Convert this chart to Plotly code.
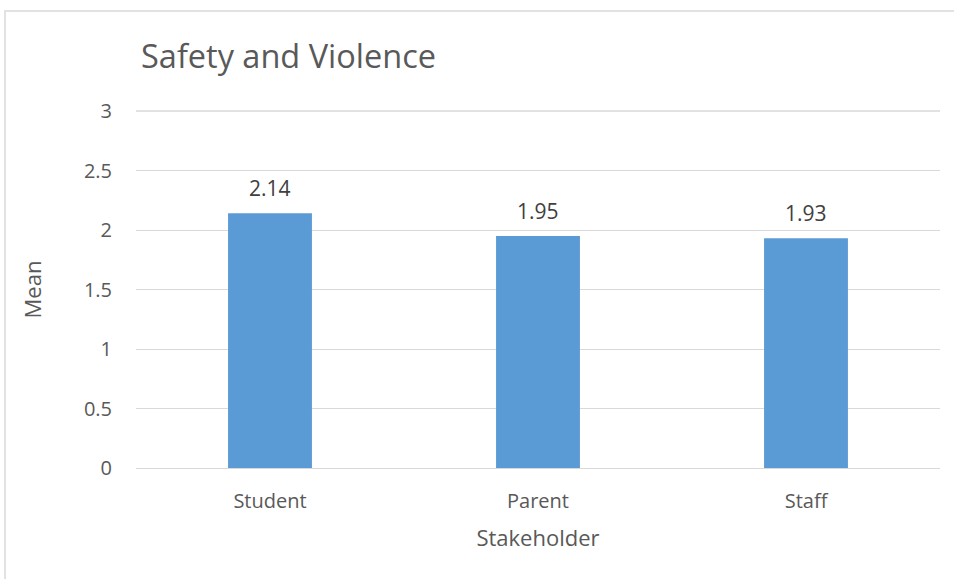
import plotly.graph_objects as go

categories = ["Student", "Parent", "Staff"]
means = [2.14, 1.95, 1.93]
labels = ["2.14", "1.95", "1.93"]
y_ticks = [0, 0.5, 1, 1.5, 2, 2.5, 3]
y_tick_text = ["0", "0.5", "1", "1.5", "2", "2.5", "3"]

W, H = 954, 579
L, R, T, B = 136, 14, 111, 111
pw, ph = W - L - R, H - T - B
font_family = "Open Sans"
txt = "#595959"
grid = "#D9D9D9"

fig = go.Figure(go.Bar(
    x=categories, y=means,
    marker=dict(color="#5B9BD5", line=dict(width=0)),
    hoverinfo="x+y",
))
for c, v, s in zip(categories, means, labels):
    fig.add_annotation(x=c, y=v, text=s, showarrow=False, yanchor="bottom",
                       yshift=9, font=dict(family=font_family, size=21, color="#404040"))

fig.update_layout(
    width=W, height=H,
    margin=dict(l=L, r=R, t=T, b=B),
    paper_bgcolor="white", plot_bgcolor="white",
    bargap=0.687,
    showlegend=False,
    title=dict(text="Safety and Violence", x=141 / W, xanchor="left",
               y=1 - 57 / H, yanchor="middle",
               font=dict(family=font_family, size=32.5, color=txt)),
    font=dict(family=font_family, color=txt),
)
fig.update_yaxes(
    range=[y_ticks[0], y_ticks[-1]], tickvals=y_ticks, ticktext=y_tick_text,
    showgrid=True, gridcolor=grid, gridwidth=1, zeroline=False,
    showline=False, ticks="", ticklabelstandoff=23,
    tickfont=dict(family=font_family, size=20, color=txt),
    title=dict(text="Mean", standoff=36,
               font=dict(family=font_family, size=22, color=txt)),
)
fig.update_xaxes(
    showgrid=False, showline=True, linecolor=grid, linewidth=1,
    ticks="", ticklabelstandoff=15,
    tickfont=dict(family=font_family, size=20, color=txt),
    title=dict(text="Stakeholder", standoff=17,
               font=dict(family=font_family, size=22, color=txt)),
)
# top gridline at the upper end of the y range (Plotly omits a gridline on the plot edge)
fig.add_shape(type="line", xref="paper", yref="paper", x0=0, x1=1,
              y0=1, y1=1, line=dict(color=grid, width=1.5),
              layer="below")
fig.add_shape(type="rect", xref="paper", yref="paper",
              x0=(5 - L) / pw, x1=(W + 20 - L) / pw,
              y0=-(H + 20 - T - ph) / ph, y1=1 + (T - 11) / ph,
              line=dict(color=grid, width=1.5), fillcolor="rgba(0,0,0,0)",
              layer="below")

fig.write_html("out.html")
